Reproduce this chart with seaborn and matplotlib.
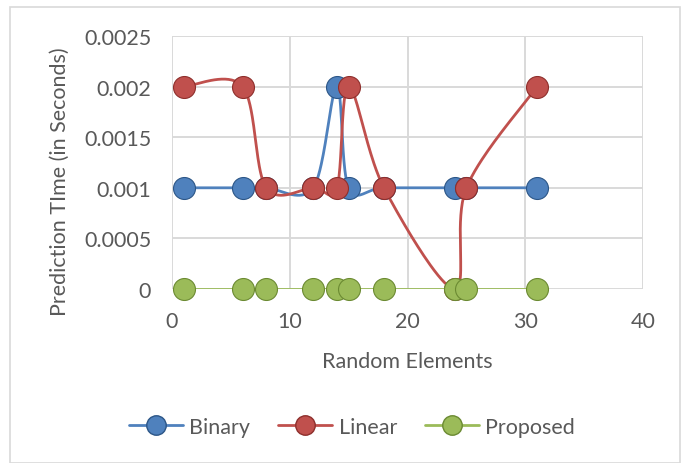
import numpy as np
import pandas as pd
import matplotlib.pyplot as plt
import seaborn as sns
from matplotlib.lines import Line2D
from matplotlib.patches import Rectangle

# Data
elements = [1, 6, 8, 12, 14, 15, 18, 24, 25, 31]
binary = [0.001, 0.001, 0.001, 0.001, 0.002, 0.001, 0.001, 0.001, 0.001, 0.001]
linear = [0.002, 0.002, 0.001, 0.001, 0.001, 0.002, 0.001, 0.0, 0.001, 0.002]
proposed = [0.0, 0.0, 0.0, 0.0, 0.0, 0.0, 0.0, 0.0, 0.0, 0.0]
series_names = ["Binary", "Linear", "Proposed"]

face_colors = {"Binary": "#4F81BD", "Linear": "#C0504D", "Proposed": "#9BBB59"}
edge_colors = {"Binary": "#2C5687", "Linear": "#8E2F2C", "Proposed": "#6B8A32"}

X_MAX, Y_MAX = 40, 0.0025
AX_W, AX_H = 471.0, 253.0  # plot area size in pixels, used for the smoothing


def smooth_curve(xs, ys, n=40):
    """Excel-like smoothed line (Catmull-Rom Bezier computed in pixel space)."""
    p = np.column_stack([np.asarray(xs) / X_MAX * AX_W, np.asarray(ys) / Y_MAX * AX_H])
    out = []
    t = np.linspace(0, 1, n)[:, None]
    for i in range(len(p) - 1):
        p0 = p[i - 1] if i > 0 else p[i]
        p1, p2 = p[i], p[i + 1]
        p3 = p[i + 2] if i + 2 < len(p) else p[i + 1]
        c1 = p1 + (p2 - p0) / 6
        c2 = p2 - (p3 - p1) / 6
        seg = (1 - t) ** 3 * p1 + 3 * (1 - t) ** 2 * t * c1 + 3 * (1 - t) * t ** 2 * c2 + t ** 3 * p2
        out.append(seg if i == 0 else seg[1:])
    out = np.vstack(out)
    return out[:, 0] / AX_W * X_MAX, out[:, 1] / AX_H * Y_MAX


df = pd.DataFrame({"elements": elements, "Binary": binary, "Linear": linear, "Proposed": proposed})

sns.set_theme(style="whitegrid")
plt.rcParams["font.family"] = ["Lato", "DejaVu Sans"]
text_color = "#595959"
fs = 15.5

fig = plt.figure(figsize=(6.89, 4.64), dpi=100)
ax = fig.add_axes([172 / 689, 1 - 290 / 464, 471 / 689, 253 / 464])
fig.patches.append(Rectangle((10 / 689, 0), 670 / 689, 1 - 8 / 464, transform=fig.transFigure,
                             fill=False, edgecolor="#D9D9D9", linewidth=1.2))

for k, name in enumerate(series_names):
    sx, sy = smooth_curve(df["elements"], df[name])
    ax.plot(sx, sy, color=face_colors[name], linewidth=2, zorder=3 + 2 * k)
    sns.scatterplot(x=df["elements"], y=df[name], ax=ax, s=250, color=face_colors[name],
                    edgecolor=edge_colors[name], linewidth=0.8, zorder=4 + 2 * k)

ax.set_xlim(0, X_MAX)
ax.set_ylim(0, Y_MAX)
ax.set_xticks([0, 10, 20, 30, 40])
ax.set_yticks([0, 0.0005, 0.001, 0.0015, 0.002, 0.0025])
ax.set_yticklabels(["0", "0.0005", "0.001", "0.0015", "0.002", "0.0025"])
ax.grid(True, color="#D9D9D9", linewidth=1.4)
for s in ax.spines.values():
    s.set_visible(False)
ax.tick_params(axis="both", length=0, labelsize=fs, labelcolor=text_color)
ax.tick_params(axis="y", pad=15)
ax.tick_params(axis="x", pad=16)
ax.set_xlabel("Random Elements", fontsize=fs, color=text_color, labelpad=14)
ax.set_ylabel("Prediction TIme (in Seconds)", fontsize=fs, color=text_color)
ax.yaxis.set_label_coords(-0.217, 0.43)
for c in ax.collections:
    c.set_clip_on(False)

handles = [Line2D([0], [0], color=face_colors[n], linewidth=2, marker="o", markersize=14,
                  markerfacecolor=face_colors[n], markeredgecolor=edge_colors[n]) for n in series_names]
fig.legend(handles, series_names, loc="center", bbox_to_anchor=(352 / 689, 1 - 428 / 464), ncol=3,
           frameon=False, fontsize=fs, labelcolor=text_color, handlelength=2.5, columnspacing=1.3,
           handletextpad=0.3)

fig.savefig("out.png", dpi=100)
